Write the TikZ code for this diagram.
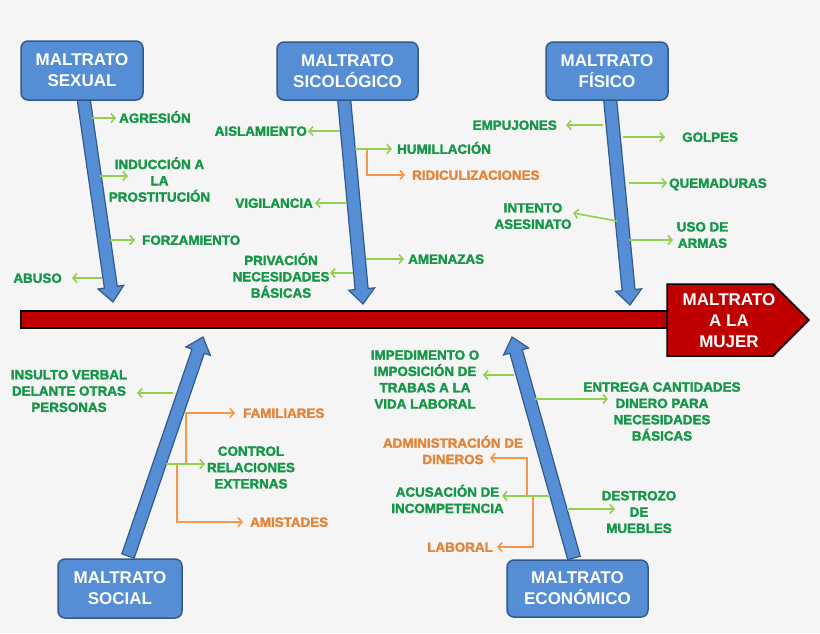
\documentclass[tikz,border=0pt]{standalone}
\usepackage{fontspec}
\setmainfont{Liberation Sans}
\newfontfamily\lblfont[FakeBold=2.2]{Liberation Sans}
\usetikzlibrary{calc,arrows.meta}
\definecolor{bg}{RGB}{245,245,245}
\definecolor{boxblue}{RGB}{85,142,213}
\definecolor{boxedge}{RGB}{50,90,140}
\definecolor{spinered}{RGB}{192,0,0}
\definecolor{lgreen}{RGB}{146,208,80}
\definecolor{tgreen}{RGB}{22,150,72}
\definecolor{lorange}{RGB}{247,150,70}
\definecolor{torange}{RGB}{226,132,58}
\tikzset{
  catbox/.style={draw=boxedge, line width=1.5pt, fill=boxblue, rounded corners=7pt,
    text=white, font=\bfseries\fontsize{17}{21}\selectfont, align=center, inner sep=0pt},
  glabel/.style={text=tgreen, font=\lblfont\bfseries\fontsize{13.4}{16.3}\selectfont, align=center, inner sep=0pt},
  olabel/.style={glabel, text=torange},
  slabel/.style={glabel, text height=9.6pt, text depth=0pt},
  solabel/.style={slabel, text=torange},
  garrow/.style={draw=lgreen, line width=1.6pt, -{Straight Barb[length=4pt,width=9pt]}},
  oarrow/.style={draw=lorange, line width=1.6pt, -{Straight Barb[length=4pt,width=9pt]}},
  fishbone/.style={fill=boxblue, draw=boxedge, line width=1.2pt, line join=miter},
}
\newcommand{\fisharrow}[2]{%
  \coordinate (fh) at ($(#2)!15pt!(#1)$);
  \path[fishbone] ($(#1)!6.5pt!90:(#2)$) -- ($(fh)!6.5pt!90:(#2)$) -- ($(fh)!13pt!90:(#2)$)
    -- (#2) -- ($(fh)!13pt!-90:(#2)$) -- ($(fh)!6.5pt!-90:(#2)$) -- ($(#1)!6.5pt!-90:(#2)$) -- cycle;}
\begin{document}
\begin{tikzpicture}[x=1pt,y=-1pt]
\fill[bg] (0,0) rectangle (820,633);
\useasboundingbox (0,0) rectangle (820,633);

% spine and head
\node[draw=black, line width=1.2pt, fill=spinered, minimum width=646pt, minimum height=17pt, inner sep=0pt] (spine) at (344,319.5) {};
\draw[fill=spinered, draw=black, line width=1.5pt] (667,284) -- (773,284) -- (809,320) -- (773,356) -- (667,356) -- cycle;
\node[text=white, font=\bfseries\fontsize{17}{21}\selectfont, align=center, inner sep=0pt] (effect) at (729,321) {MALTRATO\\A LA\\MUJER};

% big arrows
\coordinate (sexS) at (83.5,98);  \coordinate (sexT) at (113,302);
\coordinate (sicS) at (344,98);   \coordinate (sicT) at (363,304);
\coordinate (fisS) at (610,98);   \coordinate (fisT) at (630,305);
\coordinate (socS) at (128,556);  \coordinate (socT) at (203,337);
\coordinate (ecoS) at (574,558);  \coordinate (ecoT) at (512,337);
\fisharrow{sexS}{sexT}
\fisharrow{sicS}{sicT}
\fisharrow{fisS}{fisT}
\fisharrow{socS}{socT}
\fisharrow{ecoS}{ecoT}

% category boxes
\node[catbox, minimum width=122pt, minimum height=59pt] (sexual) at (82,70.5) {MALTRATO\\SEXUAL};
\node[catbox, minimum width=141pt, minimum height=58pt] (sicologico) at (347.5,71) {MALTRATO\\SICOLÓGICO};
\node[catbox, minimum width=122pt, minimum height=58pt] (fisico) at (607,71) {MALTRATO\\FÍSICO};
\node[catbox, minimum width=124pt, minimum height=59pt] (social) at (120,588.5) {MALTRATO\\SOCIAL};
\node[catbox, minimum width=141pt, minimum height=57pt] (economico) at (577.5,588.5) {MALTRATO\\ECONÓMICO};

% ---- sexual
\node[slabel, anchor=west] (agresion) at (119,118) {AGRESIÓN};
\node[glabel] (induccion) at (159.5,179.5) {INDUCCIÓN A\\LA\\PROSTITUCIÓN};
\node[slabel, anchor=west] (forzamiento) at (142,240) {FORZAMIENTO};
\node[slabel, anchor=east] (abuso) at (62,278) {ABUSO};
\coordinate (g1a) at (92,118);  \coordinate (g1b) at (116,118);
\coordinate (g2a) at (100,176); \coordinate (g2b) at (128,176);
\coordinate (g3a) at (110,240); \coordinate (g3b) at (135,240);
\coordinate (g4a) at (102,278); \coordinate (g4b) at (72,278);
\draw[garrow] (g1a) -- (g1b);
\draw[garrow] (g2a) -- (g2b);
\draw[garrow] (g3a) -- (g3b);
\draw[garrow] (g4a) -- (g4b);

% ---- sicologico
\node[slabel, anchor=east] (aislamiento) at (307,131) {AISLAMIENTO};
\node[slabel, anchor=west] (humillacion) at (397,149) {HUMILLACIÓN};
\node[solabel, anchor=west] (ridiculizaciones) at (412,175) {RIDICULIZACIONES};
\node[slabel, anchor=east] (vigilancia) at (313,203) {VIGILANCIA};
\node[slabel, anchor=west] (amenazas) at (408,259) {AMENAZAS};
\node[glabel] (privacion) at (281,275.5) {PRIVACIÓN\\NECESIDADES\\BÁSICAS};
\coordinate (g5a) at (340,131); \coordinate (g5b) at (308,131);
\coordinate (g6a) at (355,149); \coordinate (g6b) at (392,149);
\coordinate (o1a) at (367,149); \coordinate (o1b) at (405,175);
\coordinate (g7a) at (347,203); \coordinate (g7b) at (315,203);
\coordinate (g8a) at (366,259); \coordinate (g8b) at (404,259);
\coordinate (g9a) at (353,273); \coordinate (g9b) at (330,273);
\draw[garrow] (g5a) -- (g5b);
\draw[garrow] (g6a) -- (g6b);
\draw[oarrow] (o1a) |- (o1b);
\draw[garrow] (g7a) -- (g7b);
\draw[garrow] (g8a) -- (g8b);
\draw[garrow] (g9a) -- (g9b);

% ---- fisico
\node[slabel, anchor=east] (empujones) at (557,125) {EMPUJONES};
\node[slabel, anchor=west] (golpes) at (682,137) {GOLPES};
\node[slabel, anchor=west] (quemaduras) at (669,183) {QUEMADURAS};
\node[glabel] (intento) at (533,216) {INTENTO\\ASESINATO};
\node[glabel] (usodearmas) at (702.5,235) {USO DE\\ARMAS};
\coordinate (g10a) at (603,125); \coordinate (g10b) at (566,125);
\coordinate (g11a) at (623,137); \coordinate (g11b) at (665,137);
\coordinate (g12a) at (629,183); \coordinate (g12b) at (667,183);
\coordinate (g13a) at (617,221); \coordinate (g13b) at (573,213);
\coordinate (g14a) at (629,240); \coordinate (g14b) at (673,240);
\draw[garrow] (g10a) -- (g10b);
\draw[garrow] (g11a) -- (g11b);
\draw[garrow] (g12a) -- (g12b);
\draw[garrow] (g13a) -- (g13b);
\draw[garrow] (g14a) -- (g14b);

% ---- social
\node[glabel] (insulto) at (69,391) {INSULTO VERBAL\\DELANTE OTRAS\\PERSONAS};
\node[solabel, anchor=west] (familiares) at (243,413) {FAMILIARES};
\node[glabel] (control) at (251,467.5) {CONTROL\\RELACIONES\\EXTERNAS};
\node[solabel, anchor=west] (amistades) at (250,522) {AMISTADES};
\coordinate (g15a) at (173,393); \coordinate (g15b) at (137,393);
\coordinate (g16a) at (166,464); \coordinate (g16b) at (205,464);
\coordinate (o2a) at (186,464);  \coordinate (o2b) at (235,413);
\coordinate (o3a) at (177,464);  \coordinate (o3b) at (243,522);
\draw[oarrow] (o2a) |- (o2b);
\draw[oarrow] (o3a) |- (o3b);
\draw[garrow] (g15a) -- (g15b);
\draw[garrow] (g16a) -- (g16b);

% ---- economico
\node[glabel] (impedimento) at (425,379.5) {IMPEDIMENTO O\\IMPOSICIÓN DE\\TRABAS A LA\\VIDA LABORAL};
\node[glabel] (entrega) at (662,411.5) {ENTREGA CANTIDADES\\DINERO PARA\\NECESIDADES\\BÁSICAS};
\node[olabel] (administracion) at (453,450) {ADMINISTRACIÓN DE\\DINEROS};
\node[glabel] (acusacion) at (447.5,499) {ACUSACIÓN DE\\INCOMPETENCIA};
\node[glabel] (destrozo) at (639,512) {DESTROZO\\DE\\MUEBLES};
\node[solabel, anchor=east] (laboral) at (493,547) {LABORAL};
\coordinate (g17a) at (514,375); \coordinate (g17b) at (483,375);
\coordinate (g18a) at (535,399); \coordinate (g18b) at (608,399);
\coordinate (g19a) at (550,496); \coordinate (g19b) at (502,496);
\coordinate (g20a) at (567,509); \coordinate (g20b) at (615,509);
\coordinate (o4a) at (527,496);  \coordinate (o4b) at (490,458);
\coordinate (o5a) at (533,496);  \coordinate (o5b) at (497,547);
\draw[oarrow] (o4a) |- (o4b);
\draw[oarrow] (o5a) |- (o5b);
\draw[garrow] (g17a) -- (g17b);
\draw[garrow] (g18a) -- (g18b);
\draw[garrow] (g19a) -- (g19b);
\draw[garrow] (g20a) -- (g20b);
\end{tikzpicture}
\end{document}
